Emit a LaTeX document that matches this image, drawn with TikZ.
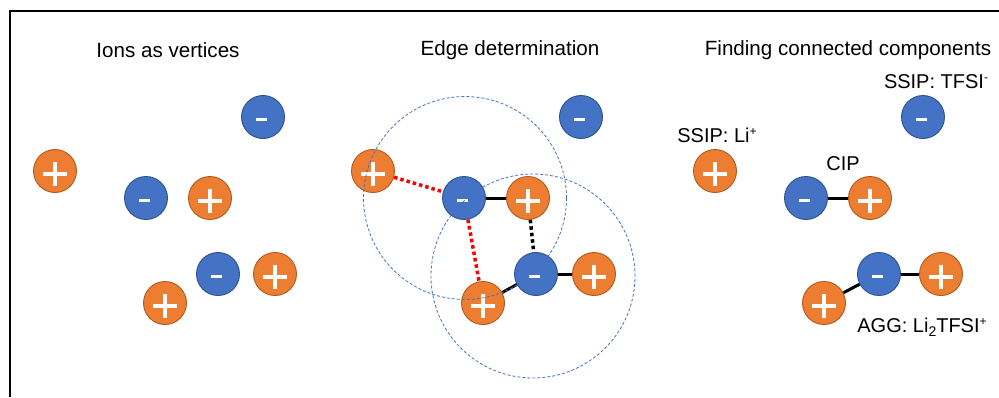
\documentclass[tikz,border=0pt]{standalone}
\usepackage{fontspec}
\setmainfont{Liberation Sans}
\definecolor{orF}{HTML}{ED7D31}
\definecolor{orD}{HTML}{AE5A21}
\definecolor{blF}{HTML}{4472C4}
\definecolor{blD}{HTML}{2F528F}
\newcommand{\ionsup}[1]{\raisebox{6.5pt}{\fontsize{12pt}{12pt}\selectfont #1}}
\newcommand{\ionsub}[1]{\raisebox{-4pt}{\fontsize{14pt}{14pt}\selectfont #1}}
\tikzset{
  cation/.style={circle, fill=orF, draw=orD, line width=0.9pt, minimum size=43pt, inner sep=0pt,
    path picture={
      \fill[white] ([xshift=-12pt,yshift=-4.5pt]path picture bounding box.center) rectangle ([xshift=12pt,yshift=-0.5pt]path picture bounding box.center);
      \fill[white] ([xshift=-2pt,yshift=-14.5pt]path picture bounding box.center) rectangle ([xshift=2pt,yshift=9.5pt]path picture bounding box.center);
    }},
  anion/.style={circle, fill=blF, draw=blD, line width=0.9pt, minimum size=43pt, inner sep=0pt,
    path picture={
      \fill[white] ([xshift=-7pt,yshift=-4.3pt]path picture bounding box.center) rectangle ([xshift=4pt,yshift=-0.8pt]path picture bounding box.center);
    }},
  paneltitle/.style={font=\fontsize{20.6pt}{24pt}\selectfont, inner sep=0pt},
  lab/.style={font=\fontsize{20pt}{24pt}\selectfont, inner sep=0pt},
  bond/.style={line width=3pt, black},
  redlink/.style={line width=3.5pt, red, dash pattern=on 3.5pt off 3pt},
  blklink/.style={line width=3.5pt, black, dash pattern=on 3.5pt off 3pt},
  reachcircle/.style={circle, draw=blF, line width=0.8pt, dash pattern=on 3pt off 2pt, inner sep=0pt}
}
\begin{document}
\begin{tikzpicture}[x=1pt, y=-1pt]
\useasboundingbox (0,0) rectangle (999,397);
\coordinate (fa) at (10,397);
\coordinate (fb) at (10,11);
\coordinate (fc) at (999,11);
\draw[line width=1.2pt] (fa) -- (fb) -- (fc);

% titles
\node[paneltitle] (t1) at (168,50) {Ions as vertices};
\node[paneltitle] (t2) at (510,50) {Edge determination};
\node[paneltitle] (t3) at (848,50) {Finding connected components};

% panel 1
\node[anion]  (n1a) at (263,117) {};
\node[cation] (p1a) at (55,171) {};
\node[anion]  (n1b) at (146,198) {};
\node[cation] (p1b) at (210,198) {};
\node[anion]  (n1c) at (218,274) {};
\node[cation] (p1c) at (275,274) {};
\node[cation] (p1d) at (165,303) {};

% panel 2
\node[anion]  (n2a) at (581,117) {};
\node[cation] (p2a) at (373,171) {};
\node[anion]  (n2b) at (464,198) {};
\node[cation] (p2b) at (528,198) {};
\node[anion]  (n2c) at (536,274) {};
\node[cation] (p2c) at (594,274) {};
\node[cation] (p2d) at (483,303) {};
\draw[redlink] (p2a) -- (n2b);
\draw[redlink] (n2b) -- (p2d);
\draw[blklink] (p2b) -- (n2c);
\draw[bond] (n2b) -- (p2b);
\draw[bond] (n2c) -- (p2d);
\draw[bond] (n2c) -- (p2c);
\node[reachcircle, minimum size=203pt] (r1) at (465,198) {};
\node[reachcircle, minimum size=204pt] (r2) at (533,276) {};

% panel 3
\node[anion]  (n3a) at (923,117) {};
\node[cation] (p3a) at (715,171) {};
\node[anion]  (n3b) at (806,198) {};
\node[cation] (p3b) at (870,198) {};
\node[anion]  (n3c) at (879,274) {};
\node[cation] (p3c) at (941,274) {};
\node[cation] (p3d) at (824,303) {};
\draw[bond] (n3b) -- (p3b);
\draw[bond] (n3c) -- (p3c);
\draw[bond] (n3c) -- (p3d);

\node[lab, anchor=base] (l1) at (936,88) {SSIP: TFSI\ionsup{-}};
\node[lab, anchor=base] (l2) at (717,142) {SSIP: Li\ionsup{+}};
\node[lab, anchor=base] (l3) at (843,170) {CIP};
\node[lab, anchor=base] (l4) at (922,332) {AGG: Li\ionsub{2}TFSI\ionsup{+}};
\end{tikzpicture}
\end{document}
